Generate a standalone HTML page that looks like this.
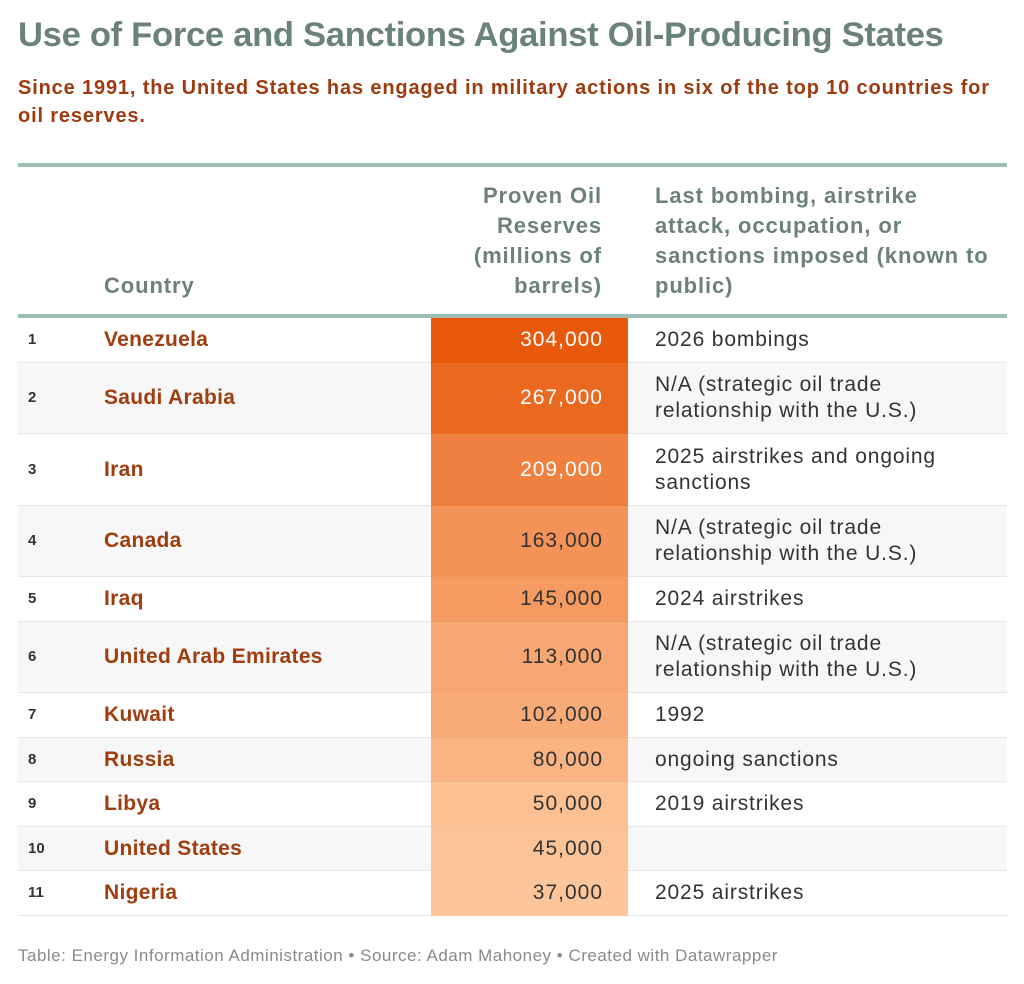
<!DOCTYPE html>
<html><head><meta charset="utf-8"><style>
body{margin:0;background:#fff;font-family:"Liberation Sans",Arial,sans-serif;}
#root{position:relative;width:1024px;height:984px;overflow:hidden;}
.abs{position:absolute;white-space:nowrap;}
#title{left:18px;top:16px;font-size:34.6px;font-weight:bold;color:#6b827c;letter-spacing:-0.3px;}
#sub{left:18px;top:74px;font-size:20px;font-weight:bold;color:#9e3b0e;line-height:28px;letter-spacing:0.85px;}
.hd{font-size:22px;font-weight:bold;color:#6b827c;line-height:30px;letter-spacing:0.9px;}
.line{position:absolute;left:18px;width:989px;background:#9dbdb6;}
.row{position:absolute;left:18px;width:989px;border-bottom:1px solid #e6e6e6;box-sizing:border-box;}
.cell{position:absolute;font-size:21px;line-height:26px;color:#333;white-space:nowrap;letter-spacing:0.85px;}
</style></head><body>
<div id="root">
<div id="title" class="abs">Use of Force and Sanctions Against Oil-Producing States</div>
<div id="sub" class="abs">Since 1991, the United States has engaged in military actions in six of the top 10 countries for<br>oil reserves.</div>
<div class="line" style="top:163px;height:4px"></div>
<div class="abs hd" style="left:104px;top:271px">Country</div>
<div class="abs hd" style="right:422px;top:181px;text-align:right">Proven Oil<br>Reserves<br>(millions of<br>barrels)</div>
<div class="abs hd" style="left:655px;top:181px">Last bombing, airstrike<br>attack, occupation, or<br>sanctions imposed (known to<br>public)</div>
<div id="body"></div>
<div class="line" style="top:314px;height:4px"></div>
<div class="abs" style="left:18px;top:946px;font-size:17px;letter-spacing:0.5px;color:#8a8a8a">Table: Energy Information Administration • Source: Adam Mahoney • Created with Datawrapper</div>
</div>
<script>
const countries=["Venezuela","Saudi Arabia","Iran","Canada","Iraq","United Arab Emirates","Kuwait","Russia","Libya","United States","Nigeria"];
const reserves=[304000,267000,209000,163000,145000,113000,102000,80000,50000,45000,37000];
const actions=[["2026 bombings"],["N/A (strategic oil trade","relationship with the U.S.)"],["2025 airstrikes and ongoing","sanctions"],["N/A (strategic oil trade","relationship with the U.S.)"],["2024 airstrikes"],["N/A (strategic oil trade","relationship with the U.S.)"],["1992"],["ongoing sanctions"],["2019 airstrikes"],[""],["2025 airstrikes"]];
const body=document.getElementById('body');
const root=document.getElementById('root');
const maxV=Math.max(...reserves),minV=Math.min(...reserves);
const c0=[232,89,12],c1=[253,198,154];
function col(v){const t=(maxV-v)/(maxV-minV||1);return 'rgb('+c0.map((a,i)=>Math.round(a+(c1[i]-a)*t)).join(',')+')';}
let y=318;
countries.forEach((c,i)=>{
  const h=actions[i].length>1?71.5:44.5;
  const r=document.createElement('div');r.className='row';
  
  
  r.style.top=y+'px';r.style.height=h+'px';r.style.background=i%2?'#f7f7f7':'#fff';
  root.insertBefore(r,body);
  const bar=document.createElement('div');bar.style.position='absolute';
  
  
  bar.style.left='431px';bar.style.width='197px';bar.style.top=y+'px';bar.style.height=(h+0.5)+'px';bar.style.background=col(reserves[i]);
  root.insertBefore(bar,body);
  const mid=y+h/2;
  const rk=document.createElement('div');rk.className='cell';
  
  
  rk.textContent=i+1;rk.style.cssText+='left:28px;top:'+(mid-13)+'px;font-size:15px;letter-spacing:0;font-weight:bold;color:#333';
  body.appendChild(rk);
  const cn=document.createElement('div');cn.className='cell';
  
  
  cn.textContent=c;cn.style.cssText+='left:104px;top:'+(mid-13)+'px;font-weight:bold;letter-spacing:0.3px;color:#a03d0f';
  body.appendChild(cn);
  const vv=document.createElement('div');vv.className='cell';
  
  
  vv.textContent=reserves[i].toLocaleString('en-US');
  vv.style.cssText+='right:421px;top:'+(mid-13)+'px;letter-spacing:1px;color:'+(reserves[i]>=200000?'#fff':'#333');
  body.appendChild(vv);
  const ac=document.createElement('div');ac.className='cell';
  
  
  ac.innerHTML=actions[i].join('<br>');
  ac.style.cssText+='left:655px;top:'+(mid-13*actions[i].length)+'px';
  body.appendChild(ac);
  y+=h;
});
</script>
</body></html>
